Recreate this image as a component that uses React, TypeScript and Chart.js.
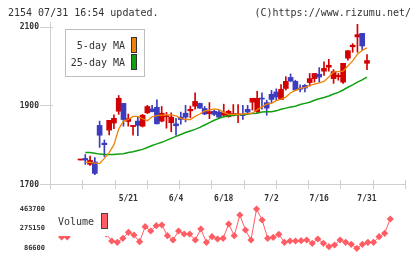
import { useEffect, useRef } from "react";
import { Chart, registerables } from "chart.js";

Chart.register(...registerables);

// Trading days (2025)
const dates = [
  "5/7", "5/8", "5/9", "5/12", "5/13", "5/14", "5/15", "5/16", "5/19", "5/20",
  "5/21", "5/22", "5/23", "5/26", "5/27", "5/28", "5/29", "5/30", "6/2", "6/3",
  "6/4", "6/5", "6/6", "6/9", "6/10", "6/11", "6/12", "6/13", "6/16", "6/17",
  "6/18", "6/19", "6/20", "6/23", "6/24", "6/25", "6/26", "6/27", "6/30", "7/1",
  "7/2", "7/3", "7/4", "7/7", "7/8", "7/9", "7/10", "7/11", "7/14", "7/15",
  "7/16", "7/17", "7/18", "7/22", "7/23", "7/24", "7/25", "7/28", "7/29", "7/30",
  "7/31",
];

const opens = [
  1761, 1765, 1750, 1756, 1849, 1804, 1837, 1855, 1885, 1905,
  1859, 1846, 1860, 1847, 1881, 1891, 1895, 1860, 1871, 1856,
  1853, 1870, 1880, 1886, 1898, 1905, 1892, 1879, 1885, 1883,
  1875, 1871, 1875, 1876, 1877, 1890, 1908, 1884, 1918, 1907,
  1928, 1934, 1915, 1943, 1971, 1961, 1944, 1951, 1958, 1968,
  1979, 1987, 1997, 1968, 1973, 1959, 2020, 2049, 2074, 2083,
  2007,
];
const highs = [
  1763, 1775, 1771, 1767, 1860, 1812, 1862, 1876, 1925, 1905,
  1878, 1849, 1870, 1877, 1900, 1900, 1914, 1897, 1882, 1881,
  1867, 1883, 1900, 1898, 1932, 1906, 1897, 1907, 1888, 1888,
  1903, 1888, 1902, 1902, 1900, 1900, 1918, 1936, 1932, 1913,
  1938, 1942, 1953, 1973, 1980, 1964, 1952, 1953, 1981, 1981,
  1996, 2011, 2017, 1991, 1981, 2007, 2039, 2057, 2106, 2083,
  2029,
];
const lows = [
  1761, 1750, 1747, 1724, 1793, 1770, 1825, 1841, 1877, 1847,
  1847, 1824, 1823, 1845, 1879, 1883, 1853, 1858, 1842, 1833,
  1824, 1852, 1858, 1869, 1890, 1892, 1876, 1866, 1874, 1868,
  1871, 1870, 1873, 1856, 1864, 1877, 1888, 1880, 1890, 1875,
  1907, 1913, 1915, 1939, 1960, 1937, 1934, 1934, 1949, 1959,
  1959, 1976, 1987, 1956, 1964, 1956, 2015, 2035, 2035, 2040,
  1991,
];
const closes = [
  1763, 1761, 1760, 1727, 1824, 1800, 1862, 1867, 1918, 1864,
  1866, 1849, 1849, 1875, 1897, 1884, 1853, 1880, 1873, 1870,
  1848, 1864, 1870, 1890, 1910, 1893, 1878, 1884, 1877, 1870,
  1881, 1885, 1879, 1878, 1874, 1883, 1918, 1918, 1916, 1893,
  1915, 1921, 1941, 1961, 1962, 1939, 1941, 1944, 1968, 1981,
  1972, 1994, 2002, 1986, 1976, 2007, 2039, 2053, 2080, 2051,
  2014,
];

// Moving averages
const ma5 = [
  null, 1755, 1755, 1753, 1752, 1765, 1780, 1800, 1840, 1860,
  1864, 1872, 1872, 1866, 1861, 1871, 1874, 1875, 1876, 1876,
  1873, 1867, 1864, 1864, 1872, 1878, 1886, 1888, 1891, 1889,
  1882, 1877, 1877, 1877, 1878, 1879, 1880, 1889, 1896, 1903,
  1905, 1912, 1916, 1921, 1932, 1938, 1943, 1946, 1951, 1954,
  1957, 1961, 1972, 1985, 1986, 1987, 2000, 2013, 2030, 2040,
  2046,
];
const ma25 = [
  null, 1780, 1780, 1778, 1776, 1775, 1775, 1775, 1776, 1777,
  1780, 1782, 1785, 1788, 1793, 1798, 1802, 1806, 1811, 1816,
  1821, 1826, 1831, 1835, 1839, 1844, 1850, 1856, 1862, 1867,
  1871, 1873, 1875, 1876, 1877, 1878, 1879, 1880, 1883, 1884,
  1884, 1886, 1890, 1893, 1896, 1898, 1902, 1905, 1908, 1913,
  1917, 1920, 1924, 1929, 1933, 1939, 1946, 1952, 1959, 1965,
  1972,
];

const volumes = [
  260000, 195000, 195000, 300000, 430000, 330000, 290000, 260000, 310000, 225000,
  156600, 144200, 182500, 240100, 214200, 149900, 293800, 252600, 303400, 310200,
  207500, 166200, 252600, 223800, 223800, 166200, 271800, 144200, 197900, 175800,
  182500, 319800, 207500, 406100, 262200, 166200, 463700, 358100, 182500, 192100,
  220900, 144200, 156600, 156600, 159500, 166200, 134600, 175800, 134600, 102000,
  118300, 166200, 144200, 125000, 86600, 125000, 144200, 144200, 197900, 230500,
  367700,
];

const priceTicks = [1700, 1900, 2100];
const dateTicks = ["5/21", "6/4", "6/18", "7/2", "7/16", "7/31"];
const volumeTicks = [463700, 275150, 86600];

const headerLeft = "2154 07/31 16:54 updated.";
const headerRight = "(C)https://www.rizumu.net/";

const UP = "#d20000";
const DOWN = "#3c3cbe";
const MA5_COLOR = "#f0820a";
const MA25_COLOR = "#10a010";
const VOL_COLOR = "#ff5c64";
const AXIS = "#cfcfcf";
const TEXT = "#333333";
const MONO = '"DejaVu Sans Mono", "Liberation Mono", monospace';

const W = 420;
const H = 259;
const X_MIN = -1.08;
const X_MAX = 62.65;
const X_DIVISIONS = 11;

const priceDecor = {
  id: "priceDecor",
  beforeDatasetsDraw(chart: any) {
    const { ctx, chartArea: a, scales } = chart;
    const ys = scales.y;
    ctx.save();
    ctx.strokeStyle = AXIS;
    ctx.lineWidth = 1;
    const left = Math.round(a.left) + 0.5;
    const bottom = Math.round(a.bottom) + 0.5;
    ctx.beginPath();
    ctx.moveTo(left, a.top);
    ctx.lineTo(left, a.bottom + 5);
    ctx.moveTo(a.left, bottom);
    ctx.lineTo(a.right + 1, bottom);
    for (const v of priceTicks) {
      const py = Math.round(ys.getPixelForValue(v)) + 0.5;
      ctx.moveTo(a.left - 10, py);
      ctx.lineTo(a.left + 3, py);
    }
    for (let k = 0; k <= X_DIVISIONS; k++) {
      const px = Math.round(a.left + (k * (a.right - a.left)) / X_DIVISIONS) + 0.5;
      ctx.moveTo(px, a.bottom - 4);
      ctx.lineTo(px, a.bottom + 5);
    }
    ctx.stroke();

    ctx.fillStyle = TEXT;
    ctx.font = `bold 8px ${MONO}`;
    ctx.textBaseline = "middle";
    ctx.textAlign = "right";
    for (const v of priceTicks) {
      ctx.fillText(String(v), a.left - 11, ys.getPixelForValue(v) + 0.5);
    }
    ctx.textAlign = "center";
    for (const d of dateTicks) {
      const px = scales.x.getPixelForValue(dates.indexOf(d));
      ctx.fillText(d, px, a.bottom + 15);
    }
    ctx.restore();
  },
  afterDraw(chart: any) {
    const { ctx } = chart;
    ctx.save();
    ctx.fillStyle = TEXT;
    ctx.font = `10px ${MONO}`;
    ctx.textBaseline = "middle";
    ctx.textAlign = "left";
    ctx.fillText(headerLeft, 8, 13);
    ctx.textAlign = "right";
    ctx.fillText(headerRight, 411, 13);

    // legend box
    ctx.fillStyle = "#ffffff";
    ctx.strokeStyle = "#bdbdbd";
    ctx.lineWidth = 1;
    ctx.fillRect(65.5, 29.5, 79, 47);
    ctx.strokeRect(65.5, 29.5, 79, 47);
    ctx.fillStyle = TEXT;
    ctx.textAlign = "right";
    ctx.fillText("5-day MA", 125, 46);
    ctx.fillText("25-day MA", 125, 63);
    ctx.strokeStyle = "#333333";
    ctx.fillStyle = MA5_COLOR;
    ctx.fillRect(131.5, 37.5, 5, 15);
    ctx.strokeRect(131.5, 37.5, 5, 15);
    ctx.fillStyle = MA25_COLOR;
    ctx.fillRect(131.5, 54.5, 5, 15);
    ctx.strokeRect(131.5, 54.5, 5, 15);
    ctx.restore();
  },
};

const volumeDecor = {
  id: "volumeDecor",
  afterDatasetsDraw(chart: any) {
    const { ctx, chartArea: a, scales } = chart;
    ctx.save();
    ctx.fillStyle = TEXT;
    ctx.font = `bold 7px ${MONO}`;
    ctx.textBaseline = "middle";
    ctx.textAlign = "right";
    for (const v of volumeTicks) {
      ctx.fillText(String(v), 45, scales.y.getPixelForValue(v));
    }
    // legend
    ctx.fillStyle = "#ffffff";
    ctx.fillRect(a.left + 2, 204, 58, 32);
    ctx.fillStyle = TEXT;
    ctx.font = `10px ${MONO}`;
    ctx.textAlign = "left";
    ctx.fillText("Volume", 58, 222);
    ctx.fillStyle = VOL_COLOR;
    ctx.strokeStyle = "#444444";
    ctx.lineWidth = 1;
    ctx.fillRect(101.5, 213.5, 6, 15);
    ctx.strokeRect(101.5, 213.5, 6, 15);
    ctx.restore();
  },
};

export default function App() {
  const priceRef = useRef<HTMLCanvasElement>(null);
  const volRef = useRef<HTMLCanvasElement>(null);

  useEffect(() => {
    const candleColors = closes.map((c, i) => (c >= opens[i] ? UP : DOWN));
    const xScale = { type: "linear", min: X_MIN, max: X_MAX, display: false };

    const price = new Chart(priceRef.current!, {
      type: "bar",
      data: {
        datasets: [
          {
            type: "line",
            data: dates.map((_, i) => ({ x: i, y: ma5[i] })),
            borderColor: MA5_COLOR,
            borderWidth: 1.3,
            pointRadius: 0,
            spanGaps: false,
            order: 0,
          },
          {
            type: "line",
            data: dates.map((_, i) => ({ x: i, y: ma25[i] })),
            borderColor: MA25_COLOR,
            borderWidth: 1.5,
            pointRadius: 0,
            spanGaps: false,
            order: 0,
          },
          {
            type: "bar",
            data: dates.map((_, i) => ({ x: i, y: [opens[i], closes[i]] })),
            backgroundColor: candleColors,
            barThickness: 5,
            minBarLength: 1,
            grouped: false,
            borderWidth: 0,
            order: 1,
          },
          {
            type: "bar",
            data: dates.map((_, i) => ({ x: i, y: [lows[i], highs[i]] })),
            backgroundColor: candleColors,
            barThickness: 1,
            grouped: false,
            borderWidth: 0,
            order: 2,
          },
        ],
      } as any,
      options: {
        responsive: false,
        animation: false,
        events: [],
        layout: { padding: { left: 50, right: 15, top: 22, bottom: H - 184 } },
        plugins: { legend: { display: false }, tooltip: { enabled: false } },
        scales: {
          x: xScale,
          y: { type: "linear", min: 1700, max: 2112, display: false },
        } as any,
      },
      plugins: [priceDecor],
    });

    const volume = new Chart(volRef.current!, {
      type: "line",
      data: {
        datasets: [
          {
            data: dates.map((_, i) => ({ x: i, y: volumes[i] })),
            borderColor: VOL_COLOR,
            borderWidth: 1,
            pointStyle: "rectRot",
            pointRadius: 3.6,
            pointBackgroundColor: VOL_COLOR,
            pointBorderWidth: 0,
            clip: false,
          },
        ],
      } as any,
      options: {
        responsive: false,
        animation: false,
        events: [],
        layout: { padding: { left: 50, right: 15, top: 209, bottom: H - 248.3 } },
        plugins: { legend: { display: false }, tooltip: { enabled: false } },
        scales: {
          x: xScale,
          y: { type: "linear", min: 86600, max: 463700, display: false },
        } as any,
      },
      plugins: [volumeDecor],
    });

    return () => {
      price.destroy();
      volume.destroy();
    };
  }, []);

  return (
    <div
      style={{
        position: "fixed",
        left: 0,
        top: 0,
        width: W,
        height: H,
        background: "#ffffff",
        overflow: "hidden",
      }}
    >
      <canvas
        ref={priceRef}
        width={W}
        height={H}
        style={{ position: "absolute", left: 0, top: 0, width: W, height: H }}
      />
      <canvas
        ref={volRef}
        width={W}
        height={H}
        style={{ position: "absolute", left: 0, top: 0, width: W, height: H }}
      />
    </div>
  );
}
